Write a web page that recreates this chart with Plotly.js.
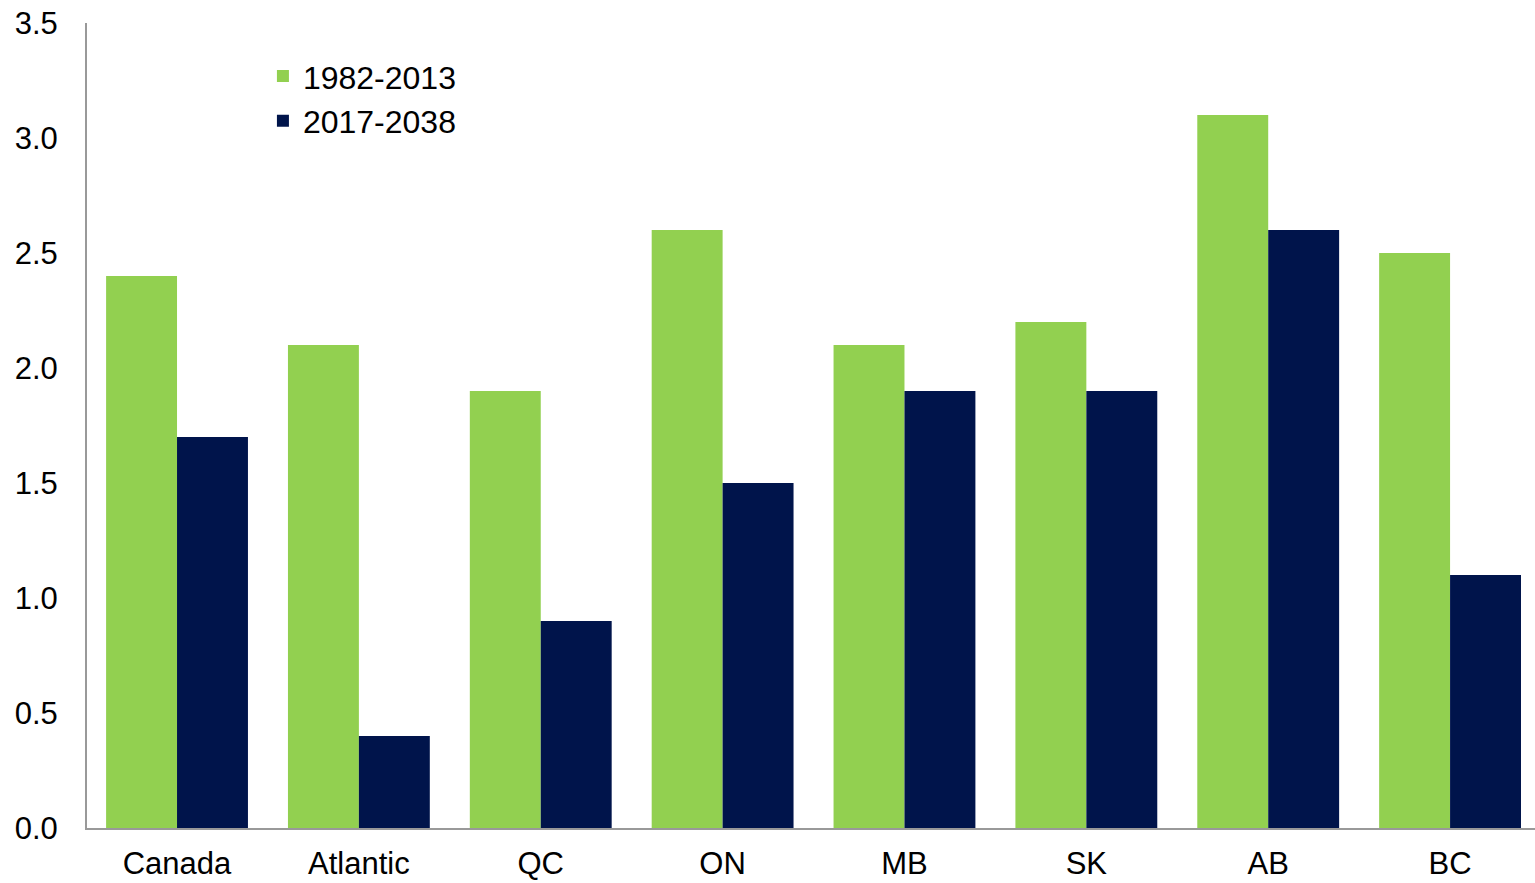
<!DOCTYPE html>
<html><head><meta charset="utf-8">
<script src="https://cdn.plot.ly/plotly-3.0.1.min.js"></script>
<style>html,body{margin:0;padding:0;background:#fff}#chart{width:1535px;height:883px}</style>
</head><body><div id="chart"></div>
<script>
const categories = ["Canada","Atlantic","QC","ON","MB","SK","AB","BC"];
const series1Name = "1982-2013";
const series1 = [2.4,2.1,1.9,2.6,2.1,2.2,3.1,2.5];
const series2Name = "2017-2038";
const series2 = [1.7,0.4,0.9,1.5,1.9,1.9,2.6,1.1];
const yTicks = [0,0.5,1,1.5,2,2.5,3,3.5];
const yTickLabels = ["0.0","0.5","1.0","1.5","2.0","2.5","3.0","3.5"];

const font = "'Liberation Sans', Arial, sans-serif";
const data = [
  {type:"bar", name:series1Name, x:categories, y:series1, marker:{color:"#92D050"}},
  {type:"bar", name:series2Name, x:categories, y:series2, marker:{color:"#00144B"}}
];
const layout = {
  width:1535, height:883,
  margin:{l:87, r:0, t:23, b:55},
  barmode:"group", bargap:0.22, bargroupgap:0,
  paper_bgcolor:"#fff", plot_bgcolor:"#fff",
  font:{family:font, color:"#000"},
  showlegend:true,
  legend:{x:0.1215, y:0.968, xanchor:"left", yanchor:"top", font:{size:32, family:font}, bgcolor:"rgba(0,0,0,0)", tracegroupgap:0, itemwidth:30},
  xaxis:{range:[-0.495, 7.467], showline:true, linecolor:"#999", linewidth:2, ticks:"", tickfont:{size:31}, ticklabelstandoff:7, showgrid:false, zeroline:false, fixedrange:true},
  yaxis:{range:[0,3.5], tickvals:yTicks, ticktext:yTickLabels, showline:true, linecolor:"#999", linewidth:2, ticks:"", tickfont:{size:31}, showgrid:false, zeroline:false, ticklabelstandoff:21, fixedrange:true}
};
Plotly.newPlot("chart", data, layout, {displayModeBar:false, staticPlot:true});
</script></body></html>
